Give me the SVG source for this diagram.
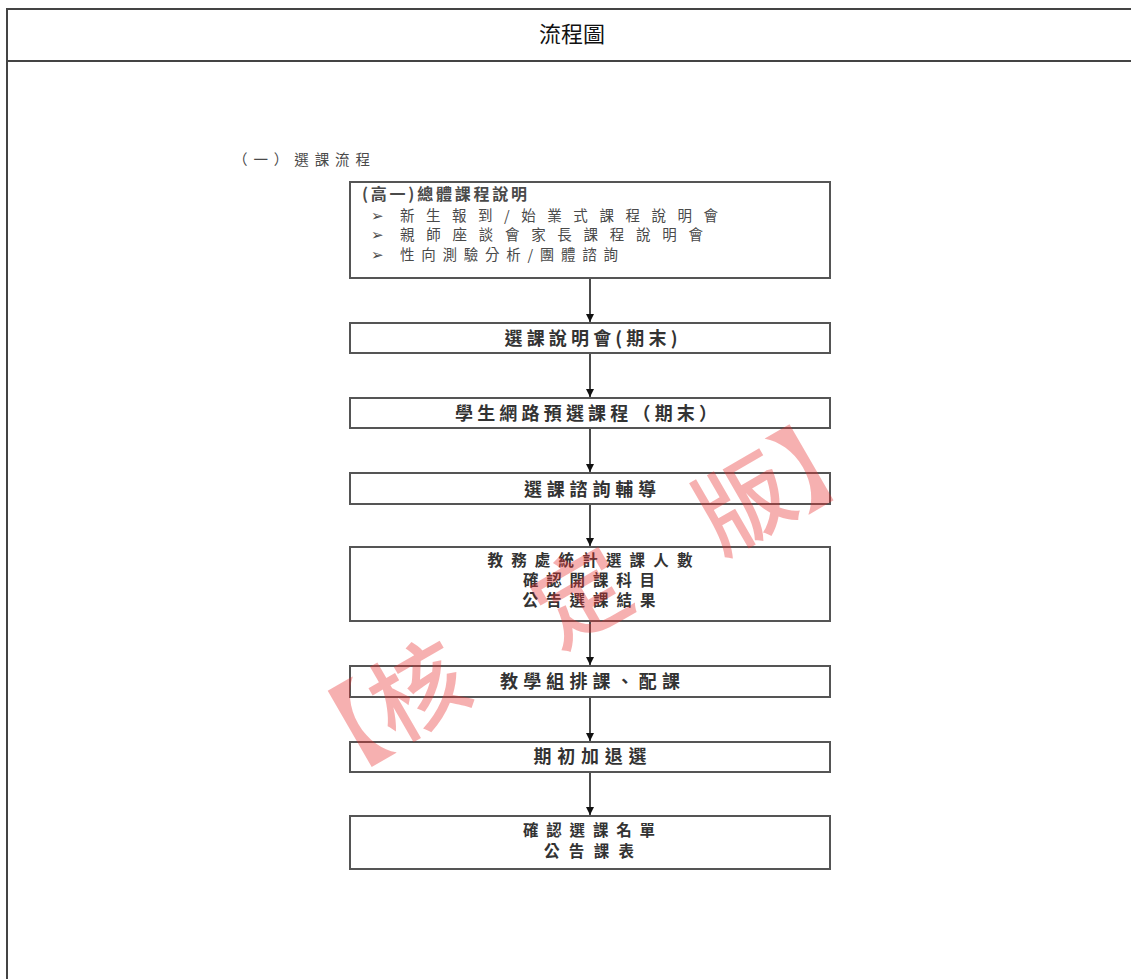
<svg xmlns="http://www.w3.org/2000/svg" width="1131" height="979" viewBox="0 0 1131 979">
<defs>
<style>
.frame{fill:none;stroke:#444;stroke-width:2}
.box{fill:#fff;stroke:#555;stroke-width:2}
.t{font-family:"Noto Sans CJK TC","Noto Sans CJK SC",sans-serif;font-size:18px;fill:#333;text-anchor:middle;font-weight:bold}
.tm{font-size:15.5px}
.tl{font-family:"Noto Sans CJK TC","Noto Sans CJK SC",sans-serif;font-size:14.5px;fill:#4a4a4a}
.hd{font-family:"Noto Sans CJK TC","Noto Sans CJK SC",sans-serif;font-size:22px;fill:#111;text-anchor:middle}
.conn{stroke:#111;stroke-width:1.5;fill:none;marker-end:url(#ah)}
.wm{font-family:"Noto Sans CJK TC","Noto Sans CJK SC",sans-serif;font-size:94px;font-weight:500;fill:#e83030;fill-opacity:0.38;text-anchor:middle}
</style>
<marker id="ah" viewBox="0 0 10 10" refX="10" refY="5" markerWidth="8" markerHeight="8" markerUnits="userSpaceOnUse" orient="auto">
<path d="M0,0 L10,5 L0,10 z" fill="#111"/>
</marker>
</defs>
<rect width="1131" height="979" fill="#fff"/>
<g id="frame">
<line class="frame" x1="7" y1="9" x2="1131" y2="9"/>
<line class="frame" x1="7" y1="8" x2="7" y2="979"/>
<line class="frame" x1="7" y1="61" x2="1131" y2="61" stroke-width="3"/>
<text class="hd" x="572" y="42">流程圖</text>
</g>
<text class="tl" x="233" y="165" font-size="14" fill="#555" textLength="137" lengthAdjust="spacing">（一）選課流程</text>
<g id="connectors">
<line class="conn" x1="590" y1="279" x2="590" y2="322"/>
<line class="conn" x1="590" y1="354" x2="590" y2="397"/>
<line class="conn" x1="590" y1="429" x2="590" y2="472"/>
<line class="conn" x1="590" y1="504" x2="590" y2="546"/>
<line class="conn" x1="590" y1="622" x2="590" y2="665"/>
<line class="conn" x1="590" y1="698" x2="590" y2="741"/>
<line class="conn" x1="590" y1="773" x2="590" y2="815"/>
</g>
<g id="n1">
<rect class="box" x="350" y="182" width="480" height="96"/>
<text class="tl" fill="#222"><tspan x="362" y="200" font-size="16" font-weight="bold" textLength="165" lengthAdjust="spacing">(高一)總體課程說明</tspan><tspan x="371" y="221">➢</tspan><tspan x="400" y="221" textLength="318" lengthAdjust="spacing" fill="#4a4a4a">新生報到/始業式課程說明會</tspan><tspan x="371" y="240">➢</tspan><tspan x="400" y="240" textLength="303" lengthAdjust="spacing" fill="#4a4a4a">親師座談會家長課程說明會</tspan><tspan x="371" y="259.5">➢</tspan><tspan x="400" y="259.5" textLength="218" lengthAdjust="spacing" fill="#4a4a4a">性向測驗分析/團體諮詢</tspan></text>
</g>
<g id="n2">
<rect class="box" x="350" y="323" width="480" height="30"/>
<text class="t" x="591" y="344.5" textLength="173" lengthAdjust="spacing">選課說明會(期末)</text>
</g>
<g id="n3">
<rect class="box" x="350" y="398" width="480" height="30"/>
<text class="t" x="586" y="419.5" textLength="262" lengthAdjust="spacing">學生網路預選課程（期末）</text>
</g>
<g id="n4">
<rect class="box" x="350" y="473" width="480" height="31"/>
<text class="t" x="590" y="495.5" textLength="132" lengthAdjust="spacing">選課諮詢輔導</text>
</g>
<g id="n5">
<rect class="box" x="350" y="547" width="480" height="74"/>
<text class="t tm"><tspan x="590" y="566" textLength="205" lengthAdjust="spacing">教務處統計選課人數</tspan><tspan x="589" y="586" textLength="132" lengthAdjust="spacing">確認開課科目</tspan><tspan x="589" y="606" textLength="133" lengthAdjust="spacing">公告選課結果</tspan></text>
</g>
<g id="n6">
<rect class="box" x="350" y="666" width="480" height="31"/>
<text class="t" x="590" y="687.5" textLength="180" lengthAdjust="spacing">教學組排課、配課</text>
</g>
<g id="n7">
<rect class="box" x="350" y="742" width="480" height="30"/>
<text class="t" x="590" y="762.5" textLength="113" lengthAdjust="spacing">期初加退選</text>
</g>
<g id="n8">
<rect class="box" x="350" y="816" width="480" height="53"/>
<text class="t tm"><tspan x="589" y="835.5" textLength="132" lengthAdjust="spacing">確認選課名單</tspan><tspan x="589" y="856.5" textLength="90" lengthAdjust="spacing">公告課表</tspan></text>
</g>
<text class="wm" transform="translate(582,598) rotate(-30)" x="0" y="33">【核　定　版】</text>
</svg>
